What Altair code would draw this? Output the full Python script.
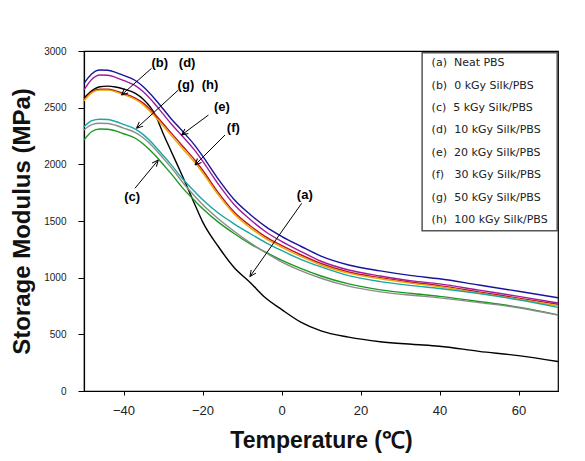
import math
import altair as alt
import pandas as pd

# Temperature grid (°C)
temps = [-50, -48, -46, -44, -42, -40, -37, -35, -32, -30, -28, -25, -22, -20,
         -16, -12, -8, -4, 0, 5, 10, 17, 25, 33, 40, 50, 60, 70]

# Storage modulus (MPa)
neat_pbs = [2583, 2650, 2685, 2690, 2682, 2665, 2627, 2575, 2440, 2275, 2120, 1890, 1650, 1495,
            1275, 1090, 960, 820, 720, 605, 530, 475, 435, 412, 395, 350, 312, 260]
silk_0 = [2568, 2640, 2662, 2662, 2648, 2625, 2585, 2540, 2440, 2360, 2280, 2160, 2040, 1950,
          1750, 1580, 1460, 1360, 1285, 1200, 1125, 1050, 1000, 960, 930, 875, 820, 765]
silk_5 = [2215, 2290, 2312, 2310, 2295, 2270, 2230, 2180, 2080, 2000, 1920, 1790, 1680, 1610,
          1490, 1390, 1300, 1225, 1155, 1080, 1015, 945, 892, 860, 835, 790, 740, 672]
silk_10 = [2560, 2632, 2655, 2655, 2640, 2615, 2572, 2525, 2420, 2340, 2258, 2138, 2018, 1928,
           1730, 1562, 1442, 1345, 1270, 1185, 1112, 1040, 990, 950, 920, 865, 810, 752]
silk_20 = [2715, 2800, 2832, 2830, 2812, 2785, 2740, 2685, 2575, 2490, 2405, 2290, 2170, 2075,
           1870, 1690, 1560, 1450, 1365, 1275, 1190, 1112, 1060, 1018, 990, 935, 880, 823]
silk_30 = [2656, 2750, 2788, 2786, 2768, 2740, 2695, 2640, 2530, 2445, 2360, 2245, 2125, 2030,
           1825, 1645, 1515, 1405, 1320, 1230, 1145, 1068, 1015, 972, 945, 890, 835, 776]
silk_50 = [2332, 2385, 2398, 2395, 2378, 2352, 2310, 2262, 2160, 2080, 2000, 1870, 1760, 1690,
           1570, 1475, 1390, 1310, 1240, 1160, 1095, 1018, 965, 930, 905, 860, 805, 738]
silk_100 = [2303, 2350, 2362, 2360, 2345, 2320, 2280, 2235, 2135, 2055, 1975, 1840, 1720, 1645,
            1520, 1410, 1310, 1220, 1140, 1060, 995, 925, 875, 845, 822, 780, 735, 670]

series_labels = [
    "(a)\u00a0\u00a0Neat PBS",
    "(b)\u00a0\u00a00 kGy Silk/PBS",
    "(c)\u00a0\u00a05 kGy Silk/PBS",
    "(d)\u00a0\u00a010 kGy Silk/PBS",
    "(e)\u00a0\u00a020 kGy Silk/PBS",
    "(f)\u00a0\u00a0\u00a030 kGy Silk/PBS",
    "(g)\u00a0\u00a050 kGy Silk/PBS",
    "(h)\u00a0\u00a0100 kGy Silk/PBS",
]
series_values = [neat_pbs, silk_0, silk_5, silk_10, silk_20, silk_30, silk_50, silk_100]
series_colors = ["#000000", "#c0141e", "#189a1e", "#e8a800", "#16169a", "#a01aa0", "#1aa6a6", "#8c8c8c"]

# Curve annotations: label text and position (°C, MPa)
note_text = ["(b)", "(d)", "(g)", "(h)", "(e)", "(f)", "(c)", "(a)"]
note_t = [-30.8, -23.9, -24.2, -18.1, -15.1, -12.2, -37.8, 5.9]
note_v = [2897, 2897, 2700, 2700, 2509, 2318, 1714, 1729]

# Arrows: start (°C, MPa) -> tip (°C, MPa)
arrow_t0 = [-32.9, -26.1, -18.5, -14.3, -37.1, 5.1]
arrow_v0 = [2847, 2656, 2435, 2259, 1789, 1656]
arrow_t1 = [-40.5, -36.7, -25.3, -21.9, -31.2, -8.0]
arrow_v1 = [2612, 2318, 2259, 1994, 2038, 1009]

W, H = 474, 340
T_MIN, T_MAX = -50, 70
V_MIN, V_MAX = 0, 3000

# legend box placement (in data units of the plot)
LEG_T0, LEG_T1 = 35.6, 69.8
LEG_V0, LEG_V1 = 1414, 2985
LEG_TEXT_T = 38.0
LEG_TOP_V, LEG_STEP_V = 2892, 197.6

rows = []
for lab, vals in zip(series_labels, series_values):
    for t, v in zip(temps, vals):
        rows.append({"series": lab, "T": t, "V": v})
df = pd.DataFrame(rows)

sx = W / (T_MAX - T_MIN)
sy = H / (V_MAX - V_MIN)
arrows = pd.DataFrame({"t0": arrow_t0, "v0": arrow_v0, "t1": arrow_t1, "v1": arrow_v1})
arrows["ang"] = [
    math.degrees(math.atan2(-(b1 - b0) * sy, (a1 - a0) * sx)) % 360
    for a0, b0, a1, b1 in zip(arrow_t0, arrow_v0, arrow_t1, arrow_v1)
]
notes = pd.DataFrame({"txt": note_text, "T": note_t, "V": note_v})
legend_df = pd.DataFrame({
    "label": series_labels,
    "T": [LEG_TEXT_T] * len(series_labels),
    "V": [LEG_TOP_V - i * LEG_STEP_V for i in range(len(series_labels))],
})
legend_box = pd.DataFrame({"t0": [LEG_T0], "t1": [LEG_T1], "v0": [LEG_V0], "v1": [LEG_V1]})

xscale = alt.Scale(domain=[T_MIN, T_MAX], nice=False, zero=False)
yscale = alt.Scale(domain=[V_MIN, V_MAX], nice=False)

x_axis = alt.Axis(
    values=[-40, -20, 0, 20, 40, 60], title="Temperature (\u2103)", grid=False,
    tickSize=4, labelPadding=9, labelFontSize=13, labelFont="Liberation Sans", labelColor="#222",
    titleFont="Liberation Sans", titleFontSize=23, titleFontWeight="bold", titleColor="#111",
    titleX=W / 2, titleY=56, titleBaseline="alphabetic", titleAlign="center",
)
y_axis = alt.Axis(
    values=[0, 500, 1000, 1500, 2000, 2500, 3000], format="d", title="Storage Modulus (MPa)",
    grid=False,
    tickSize=6, labelPadding=12, labelFontSize=10, labelFont="Liberation Sans", labelColor="#222",
    titleFont="Liberation Sans", titleFontSize=24, titleFontWeight="bold", titleColor="#111",
    titleX=-62, titleY=H / 2, titleAngle=270, titleAlign="center", titleBaseline="middle",
)

lines = alt.Chart(df).mark_line(interpolate="monotone", strokeWidth=1.4).encode(
    x=alt.X("T:Q", scale=xscale, axis=x_axis),
    y=alt.Y("V:Q", scale=yscale, axis=y_axis),
    color=alt.Color(
        "series:N",
        scale=alt.Scale(domain=series_labels, range=series_colors),
        sort=series_labels,
        legend=None,
    ),
)

box = alt.Chart(legend_box).mark_rect(fill="white", stroke="#555", strokeWidth=1.5).encode(
    x="t0:Q", x2="t1:Q", y="v0:Q", y2="v1:Q"
)
legend_text = alt.Chart(legend_df).mark_text(
    font="DejaVu Sans", fontSize=11, align="left", baseline="middle", color="#222",
).encode(x="T:Q", y="V:Q", text="label:N")

arrow_lines = alt.Chart(arrows).mark_rule(color="black", strokeWidth=1).encode(
    x="t0:Q", y="v0:Q", x2="t1:Q", y2="v1:Q"
)
arrow_heads = alt.Chart(arrows).mark_point(
    shape="M0,0L-1,-0.45M0,0L-1,0.45", filled=False, size=160, color="black",
    strokeWidth=1, opacity=1,
).encode(x="t1:Q", y="v1:Q", angle=alt.Angle("ang:Q", scale=None))

labels = alt.Chart(notes).mark_text(
    font="Liberation Sans", fontWeight="bold", fontSize=13, align="center", baseline="middle",
    color="black",
).encode(x="T:Q", y="V:Q", text="txt:N")

chart = alt.layer(lines, box, legend_text, arrow_lines, arrow_heads, labels).properties(
    width=W, height=H,
    autosize=alt.AutoSizeParams(type="none"),
    padding={"left": 76, "top": 43, "right": 15, "bottom": 62},
).configure_view(stroke="black", strokeWidth=1.2).configure_axis(
    domainColor="black", tickColor="black", domainWidth=1.2
)

chart.save("out.html", embed_options={"renderer": "svg", "actions": False})
